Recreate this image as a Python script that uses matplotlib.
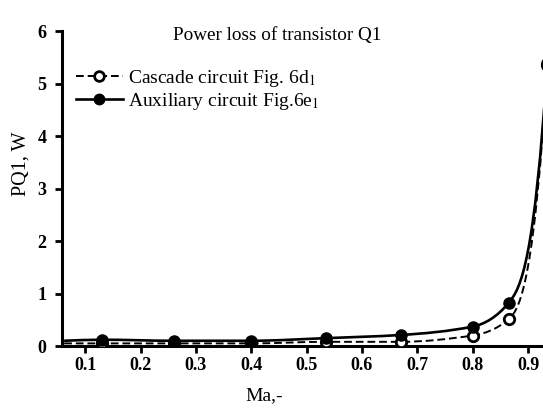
import numpy as np
import matplotlib
matplotlib.use("Agg")
import matplotlib.pyplot as plt
from matplotlib.path import Path
from matplotlib.patches import PathPatch

plt.rcParams['font.family'] = ['Liberation Serif', 'DejaVu Serif']
plt.rcParams['mathtext.fontset'] = 'stix'

# Data
ma = [0.062, 0.13, 0.26, 0.40, 0.535, 0.67, 0.80, 0.865, 0.935]
cascade = [0.05, 0.05, 0.05, 0.05, 0.08, 0.08, 0.20, 0.51, 5.35]
auxiliary = [0.10, 0.12, 0.10, 0.10, 0.15, 0.21, 0.37, 0.82, 5.4]

x_ticks = [0.1, 0.2, 0.3, 0.4, 0.5, 0.6, 0.7, 0.8, 0.9]
y_ticks = [0, 1, 2, 3, 4, 5, 6]


def smooth_path(x, y, end_slope):
    """Bezier path through the points, monotone tangents."""
    x = np.asarray(x, float)
    y = np.asarray(y, float)
    h = np.diff(x)
    d = np.diff(y) / h
    m = np.zeros(len(x))
    m[0] = d[0]
    for i in range(1, len(x) - 1):
        if d[i - 1] * d[i] <= 0:
            m[i] = 0.0
        else:
            m[i] = 2.0 / (1.0 / d[i - 1] + 1.0 / d[i])
    m[-1] = end_slope
    verts = [(x[0], y[0])]
    codes = [Path.MOVETO]
    for i in range(len(x) - 1):
        verts.append((x[i] + h[i] / 3, y[i] + m[i] * h[i] / 3))
        verts.append((x[i + 1] - h[i] / 3, y[i + 1] - m[i + 1] * h[i] / 3))
        verts.append((x[i + 1], y[i + 1]))
        codes += [Path.CURVE4] * 3
    return Path(verts, codes)


fig = plt.figure(figsize=(5.43, 4.09), dpi=100)
ax = fig.add_axes([0.114, 0.154, 0.886, 0.770])

ax.add_patch(PathPatch(smooth_path(ma, cascade, 170), fill=False,
                       edgecolor='black', lw=1.4, ls=(0, (4, 2))))
ax.add_patch(PathPatch(smooth_path(ma, auxiliary, 160), fill=False,
                       edgecolor='black', lw=1.9))

ax.plot(ma, cascade, ls='none', marker='o', ms=7.5, mfc='white', mec='black',
        mew=2, markevery=slice(1, None), zorder=4)
ax.plot(ma, auxiliary, ls='none', marker='o', ms=8, mfc='black', mec='black',
        markevery=slice(1, None), zorder=5)

# legend handles
ax.plot([], [], ls=(0, (4, 2)), lw=1.4, color='black', marker='o', ms=7,
        mfc='white', mec='black', mew=2, label='Cascade circuit Fig. 6d$_1$')
ax.plot([], [], ls='-', lw=1.9, color='black', marker='o', ms=7.5,
        mfc='black', label='Auxiliary circuit Fig.6e$_1$')

ax.set_xlim(0.058, 0.927)
ax.set_ylim(0, 6)
ax.set_xticks(x_ticks)
ax.set_yticks(y_ticks)
ax.set_xticklabels([f"{v:.1f}" for v in x_ticks], fontweight='bold', fontsize=13)
ax.set_yticklabels([str(v) for v in y_ticks], fontweight='bold', fontsize=13)

for side in ['top', 'right']:
    ax.spines[side].set_visible(False)
for side in ['left', 'bottom']:
    ax.spines[side].set_linewidth(2.2)
ax.tick_params(direction='out', length=5, width=2, pad=3)
ax.tick_params(axis='y', pad=6)

ax.set_xlabel('Ma,-', fontsize=14)
ax.xaxis.set_label_coords(0.42, -0.13)
ax.set_ylabel('PQ1, W', fontsize=14.5)
ax.yaxis.set_label_coords(-0.065, 0.58)

ax.text(0.447, 0.987, 'Power loss of transistor Q1', fontsize=13.8,
        ha='center', va='center', transform=ax.transAxes)

ax.legend(loc='upper left', bbox_to_anchor=(0.005, 0.92), frameon=False,
          fontsize=14, handlelength=2.4, handletextpad=0.25,
          labelspacing=0.1, borderaxespad=0.2)

fig.savefig('out.png', dpi=100)
